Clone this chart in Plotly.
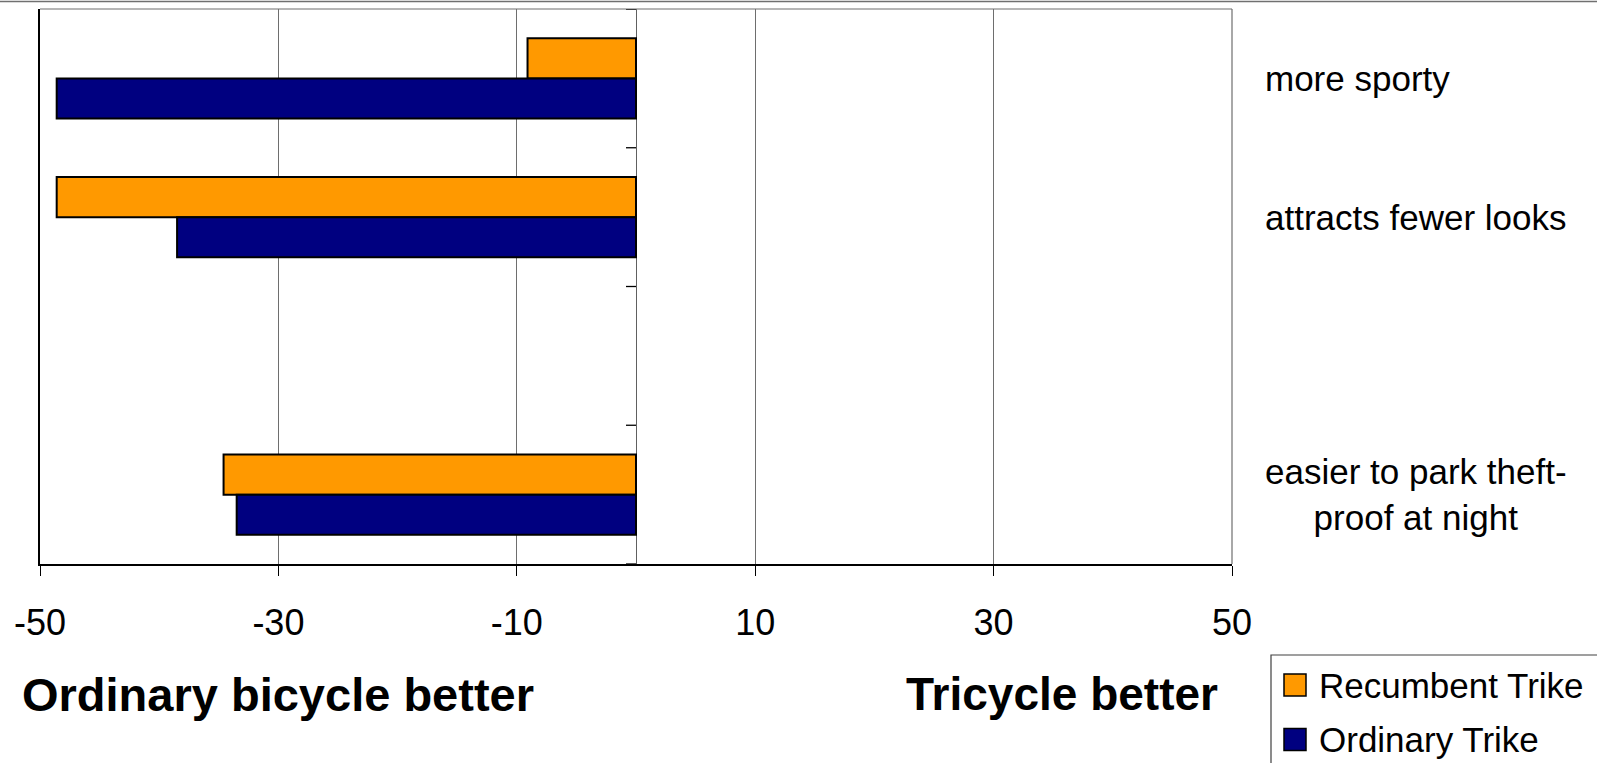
import plotly.graph_objects as go

# ---- data -------------------------------------------------------------
categories = ["more sporty", "attracts fewer looks", " ",
              "easier to park theft-proof at night"]
category_labels = ["more sporty", "attracts fewer looks", "",
                   "easier to park theft-<br>proof at night"]
series_names = ["Recumbent Trike", "Ordinary Trike"]
recumbent = [-9.1, -48.6, None, -34.6]
ordinary = [-48.6, -38.5, None, -33.5]
x_ticks = [-50, -30, -10, 10, 30, 50]
side_titles = ["Ordinary bicycle better", "Tricycle better"]

# ---- styling ----------------------------------------------------------
W, H = 1597, 763
L, R, T, B = 40, 365, 9, 199
FONT = "Liberation Sans, Arial, sans-serif"
COLORS = ["#FF9900", "#000080"]
GRID = "#6e6e6e"


def px_x(px):
    return (px - L) / (W - L - R)


def px_y(py):
    return 1 - (py - T) / (H - T - B)


fig = go.Figure()
for name, vals, col in zip(series_names, [recumbent, ordinary], COLORS):
    fig.add_trace(go.Bar(
        y=categories, x=vals, name=name, orientation="h",
        marker=dict(color=col, line=dict(color="black", width=2)),
        showlegend=False, hoverinfo="x+y+name",
    ))

shapes = []
# plot frame: grey top / right edges
shapes.append(dict(type="line", xref="x domain", yref="y domain",
                   x0=0, x1=1, y0=1, y1=1, line=dict(color=GRID, width=1.2)))
shapes.append(dict(type="line", xref="x domain", yref="y domain",
                   x0=1, x1=1, y0=0, y1=1, line=dict(color=GRID, width=1.2)))
# thin border along the top of the page
shapes.append(dict(type="line", xref="paper", yref="paper",
                   x0=px_x(0), x1=px_x(W), y0=px_y(1.5), y1=px_y(1.5),
                   line=dict(color="#707070", width=1.5)))
# category tick marks on the vertical axis at x = 0
for i in range(len(categories) + 1):
    shapes.append(dict(type="line", xref="x", yref="y",
                       xsizemode="pixel", xanchor=0, x0=-10, x1=0,
                       y0=i - 0.5, y1=i - 0.5,
                       line=dict(color="black", width=1.3)))

# legend box (hand-drawn so the swatches can be full size)
shapes.append(dict(type="rect", xref="paper", yref="paper",
                   x0=px_x(1271), x1=px_x(W + 20), y0=px_y(655), y1=px_y(H + 20),
                   line=dict(color="#404040", width=1.2), fillcolor="white"))
legend_rows = [685, 739.5]
for name, col, cy in zip(series_names, COLORS, legend_rows):
    shapes.append(dict(type="rect", xref="paper", yref="paper",
                       x0=px_x(1284), x1=px_x(1306),
                       y0=px_y(cy - 11), y1=px_y(cy + 11),
                       fillcolor=col, line=dict(color="black", width=1.5)))

annotations = []
for name, cy in zip(series_names, legend_rows):
    annotations.append(dict(text=name, xref="paper", yref="paper",
                            x=px_x(1317), y=px_y(cy), xanchor="left",
                            yanchor="middle", showarrow=False,
                            font=dict(family=FONT, size=35, color="black")))

# category labels to the right of the plot
for cat, lab in zip(categories, category_labels):
    if not lab:
        continue
    annotations.append(dict(text=lab, xref="paper", yref="y", x=px_x(1263),
                            y=cat, xanchor="left", yanchor="middle",
                            align="center", showarrow=False,
                            font=dict(family=FONT, size=35, color="black")))

# side titles under the axis
annotations.append(dict(text="<b>%s</b>" % side_titles[0], xref="paper",
                        yref="paper", x=px_x(20), y=px_y(694),
                        xanchor="left", yanchor="middle", showarrow=False,
                        font=dict(family=FONT, size=47, color="black")))
annotations.append(dict(text="<b>%s</b>" % side_titles[1], xref="paper",
                        yref="paper", x=px_x(1220), y=px_y(694),
                        xanchor="right", yanchor="middle", showarrow=False,
                        font=dict(family=FONT, size=46, color="black")))

fig.update_layout(
    width=W, height=H,
    margin=dict(l=L, r=R, t=T, b=B, pad=0),
    paper_bgcolor="white", plot_bgcolor="white",
    barmode="group", bargap=0.42, bargroupgap=0,
    font=dict(family=FONT, size=36, color="black"),
    xaxis=dict(
        range=[-50, 50], tickvals=x_ticks, ticktext=[str(v) for v in x_ticks],
        showgrid=True, gridcolor=GRID, gridwidth=1,
        zeroline=True, zerolinecolor="#606060", zerolinewidth=1.3,
        showline=True, linecolor="black", linewidth=1.6,
        ticks="outside", ticklen=10, tickwidth=1.2, tickcolor="black",
        tickfont=dict(family=FONT, size=36, color="black"),
        ticklabelstandoff=16, fixedrange=True,
    ),
    yaxis=dict(
        type="category", categoryorder="array", categoryarray=categories,
        range=[len(categories) - 0.5, -0.5],
        showticklabels=False, showgrid=False, zeroline=False,
        showline=True, linecolor="black", linewidth=1.6, ticks="",
        fixedrange=True,
    ),
    shapes=shapes,
    annotations=annotations,
    showlegend=False,
)

fig.write_html("out.html")
